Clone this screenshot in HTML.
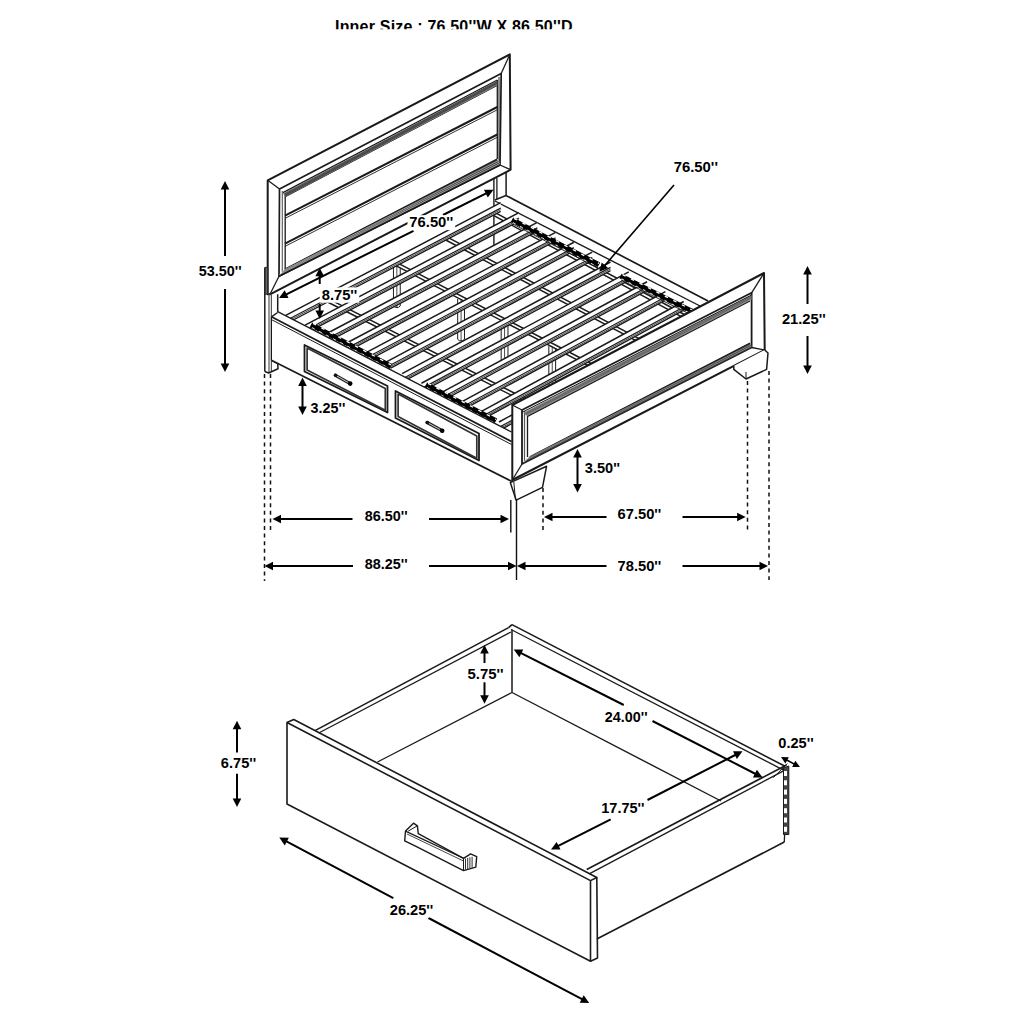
<!DOCTYPE html>
<html><head><meta charset="utf-8"><style>
html,body{margin:0;padding:0;background:#fff;width:1024px;height:1024px;overflow:hidden}
svg{position:absolute;left:0;top:0}
text{font-family:"Liberation Sans",sans-serif;font-weight:bold;fill:#000}
</style></head><body>
<svg width="1024" height="1024" viewBox="0 0 1024 1024">
<line x1="506.00" y1="195.50" x2="708.00" y2="301.00" stroke="#1a1a1a" stroke-width="1.7" />
<line x1="494.90" y1="200.00" x2="506.00" y2="195.50" stroke="#1a1a1a" stroke-width="1.4" />
<line x1="494.90" y1="201.00" x2="702.00" y2="307.00" stroke="#1a1a1a" stroke-width="1.4" />
<line x1="493.90" y1="178.00" x2="493.90" y2="245.00" stroke="#1a1a1a" stroke-width="1.4" />
<line x1="496.90" y1="178.00" x2="496.90" y2="199.00" stroke="#1a1a1a" stroke-width="1.3" />
<line x1="506.10" y1="172.00" x2="506.10" y2="195.50" stroke="#1a1a1a" stroke-width="1.5" />
<polyline points="393.45,265.42 393.45,305.92 395.35,307.42 398.35,307.42 400.25,305.92 400.25,265.42" stroke="#1a1a1a" stroke-width="1.0" fill="#fff" stroke-linejoin="round" />
<line x1="396.85" y1="265.42" x2="396.85" y2="307.42" stroke="#1a1a1a" stroke-width="0.8" />
<polyline points="457.68,298.80 457.68,339.30 459.58,340.80 462.58,340.80 464.48,339.30 464.48,298.80" stroke="#1a1a1a" stroke-width="1.0" fill="#fff" stroke-linejoin="round" />
<line x1="461.08" y1="298.80" x2="461.08" y2="340.80" stroke="#1a1a1a" stroke-width="0.8" />
<polyline points="501.18,321.41 501.18,361.91 503.08,363.41 506.08,363.41 507.98,361.91 507.98,321.41" stroke="#1a1a1a" stroke-width="1.0" fill="#fff" stroke-linejoin="round" />
<line x1="504.58" y1="321.41" x2="504.58" y2="363.41" stroke="#1a1a1a" stroke-width="0.8" />
<polyline points="548.84,346.18 548.84,386.68 550.74,388.18 553.74,388.18 555.63,386.68 555.63,346.18" stroke="#1a1a1a" stroke-width="1.0" fill="#fff" stroke-linejoin="round" />
<line x1="552.24" y1="346.18" x2="552.24" y2="388.18" stroke="#1a1a1a" stroke-width="0.8" />
<polygon points="326.55,301.49 537.57,408.49 541.07,406.69 330.05,299.69" stroke="#1a1a1a" stroke-width="1.5" fill="#fff" stroke-linejoin="round" />
<polygon points="395.35,265.42 602.53,373.09 606.03,371.29 398.85,263.62" stroke="#1a1a1a" stroke-width="1.5" fill="#fff" stroke-linejoin="round" />
<polygon points="444.80,239.50 649.22,347.66 652.72,345.86 448.30,237.70" stroke="#1a1a1a" stroke-width="1.5" fill="#fff" stroke-linejoin="round" />
<polygon points="492.10,214.71 693.88,323.32 697.38,321.52 495.60,212.91" stroke="#1a1a1a" stroke-width="1.5" fill="#fff" stroke-linejoin="round" />
<polygon points="285.70,315.40 500.70,202.70 500.70,211.30 285.70,324.00" stroke="#1a1a1a" stroke-width="0.0" fill="#fff" stroke-linejoin="round" stroke="none"/>
<line x1="285.70" y1="315.40" x2="500.70" y2="202.70" stroke="#1a1a1a" stroke-width="1.5" />
<line x1="285.70" y1="320.80" x2="500.70" y2="208.10" stroke="#1a1a1a" stroke-width="1.2" />
<line x1="285.70" y1="322.40" x2="500.70" y2="209.70" stroke="#1a1a1a" stroke-width="0.8" />
<line x1="285.70" y1="324.00" x2="500.70" y2="211.30" stroke="#1a1a1a" stroke-width="1.4" />
<polygon points="305.09,325.09 519.00,212.58 519.00,221.18 305.09,333.69" stroke="#1a1a1a" stroke-width="0.0" fill="#fff" stroke-linejoin="round" stroke="none"/>
<line x1="305.09" y1="325.09" x2="519.00" y2="212.58" stroke="#1a1a1a" stroke-width="1.5" />
<line x1="305.09" y1="330.49" x2="519.00" y2="217.98" stroke="#1a1a1a" stroke-width="1.2" />
<line x1="305.09" y1="332.09" x2="519.00" y2="219.58" stroke="#1a1a1a" stroke-width="0.8" />
<line x1="305.09" y1="333.69" x2="519.00" y2="221.18" stroke="#1a1a1a" stroke-width="1.4" />
<polygon points="324.48,334.78 537.30,222.46 537.30,231.06 324.48,343.38" stroke="#1a1a1a" stroke-width="0.0" fill="#fff" stroke-linejoin="round" stroke="none"/>
<line x1="324.48" y1="334.78" x2="537.30" y2="222.46" stroke="#1a1a1a" stroke-width="1.5" />
<line x1="324.48" y1="340.18" x2="537.30" y2="227.86" stroke="#1a1a1a" stroke-width="1.2" />
<line x1="324.48" y1="341.78" x2="537.30" y2="229.46" stroke="#1a1a1a" stroke-width="0.8" />
<line x1="324.48" y1="343.38" x2="537.30" y2="231.06" stroke="#1a1a1a" stroke-width="1.4" />
<polygon points="343.87,344.47 555.60,232.35 555.60,240.95 343.87,353.07" stroke="#1a1a1a" stroke-width="0.0" fill="#fff" stroke-linejoin="round" stroke="none"/>
<line x1="343.87" y1="344.47" x2="555.60" y2="232.35" stroke="#1a1a1a" stroke-width="1.5" />
<line x1="343.87" y1="349.87" x2="555.60" y2="237.75" stroke="#1a1a1a" stroke-width="1.2" />
<line x1="343.87" y1="351.47" x2="555.60" y2="239.35" stroke="#1a1a1a" stroke-width="0.8" />
<line x1="343.87" y1="353.07" x2="555.60" y2="240.95" stroke="#1a1a1a" stroke-width="1.4" />
<polygon points="363.26,354.16 573.90,242.23 573.90,250.83 363.26,362.76" stroke="#1a1a1a" stroke-width="0.0" fill="#fff" stroke-linejoin="round" stroke="none"/>
<line x1="363.26" y1="354.16" x2="573.90" y2="242.23" stroke="#1a1a1a" stroke-width="1.5" />
<line x1="363.26" y1="359.56" x2="573.90" y2="247.63" stroke="#1a1a1a" stroke-width="1.2" />
<line x1="363.26" y1="361.16" x2="573.90" y2="249.23" stroke="#1a1a1a" stroke-width="0.8" />
<line x1="363.26" y1="362.76" x2="573.90" y2="250.83" stroke="#1a1a1a" stroke-width="1.4" />
<polygon points="382.65,363.85 592.20,252.11 592.20,260.71 382.65,372.45" stroke="#1a1a1a" stroke-width="0.0" fill="#fff" stroke-linejoin="round" stroke="none"/>
<line x1="382.65" y1="363.85" x2="592.20" y2="252.11" stroke="#1a1a1a" stroke-width="1.5" />
<line x1="382.65" y1="369.25" x2="592.20" y2="257.51" stroke="#1a1a1a" stroke-width="1.2" />
<line x1="382.65" y1="370.85" x2="592.20" y2="259.11" stroke="#1a1a1a" stroke-width="0.8" />
<line x1="382.65" y1="372.45" x2="592.20" y2="260.71" stroke="#1a1a1a" stroke-width="1.4" />
<polygon points="402.05,373.55 610.50,261.99 610.50,270.59 402.05,382.15" stroke="#1a1a1a" stroke-width="0.0" fill="#fff" stroke-linejoin="round" stroke="none"/>
<line x1="402.05" y1="373.55" x2="610.50" y2="261.99" stroke="#1a1a1a" stroke-width="1.5" />
<line x1="402.05" y1="378.95" x2="610.50" y2="267.39" stroke="#1a1a1a" stroke-width="1.2" />
<line x1="402.05" y1="380.55" x2="610.50" y2="268.99" stroke="#1a1a1a" stroke-width="0.8" />
<line x1="402.05" y1="382.15" x2="610.50" y2="270.59" stroke="#1a1a1a" stroke-width="1.4" />
<polygon points="421.44,383.24 628.80,271.87 628.80,280.47 421.44,391.84" stroke="#1a1a1a" stroke-width="0.0" fill="#fff" stroke-linejoin="round" stroke="none"/>
<line x1="421.44" y1="383.24" x2="628.80" y2="271.87" stroke="#1a1a1a" stroke-width="1.5" />
<line x1="421.44" y1="388.64" x2="628.80" y2="277.27" stroke="#1a1a1a" stroke-width="1.2" />
<line x1="421.44" y1="390.24" x2="628.80" y2="278.87" stroke="#1a1a1a" stroke-width="0.8" />
<line x1="421.44" y1="391.84" x2="628.80" y2="280.47" stroke="#1a1a1a" stroke-width="1.4" />
<polygon points="440.83,392.93 647.10,281.75 647.10,290.35 440.83,401.53" stroke="#1a1a1a" stroke-width="0.0" fill="#fff" stroke-linejoin="round" stroke="none"/>
<line x1="440.83" y1="392.93" x2="647.10" y2="281.75" stroke="#1a1a1a" stroke-width="1.5" />
<line x1="440.83" y1="398.33" x2="647.10" y2="287.15" stroke="#1a1a1a" stroke-width="1.2" />
<line x1="440.83" y1="399.93" x2="647.10" y2="288.75" stroke="#1a1a1a" stroke-width="0.8" />
<line x1="440.83" y1="401.53" x2="647.10" y2="290.35" stroke="#1a1a1a" stroke-width="1.4" />
<polygon points="460.22,402.62 665.40,291.64 665.40,300.24 460.22,411.22" stroke="#1a1a1a" stroke-width="0.0" fill="#fff" stroke-linejoin="round" stroke="none"/>
<line x1="460.22" y1="402.62" x2="665.40" y2="291.64" stroke="#1a1a1a" stroke-width="1.5" />
<line x1="460.22" y1="408.02" x2="665.40" y2="297.04" stroke="#1a1a1a" stroke-width="1.2" />
<line x1="460.22" y1="409.62" x2="665.40" y2="298.64" stroke="#1a1a1a" stroke-width="0.8" />
<line x1="460.22" y1="411.22" x2="665.40" y2="300.24" stroke="#1a1a1a" stroke-width="1.4" />
<polygon points="479.61,412.31 683.70,301.52 683.70,310.12 479.61,420.91" stroke="#1a1a1a" stroke-width="0.0" fill="#fff" stroke-linejoin="round" stroke="none"/>
<line x1="479.61" y1="412.31" x2="683.70" y2="301.52" stroke="#1a1a1a" stroke-width="1.5" />
<line x1="479.61" y1="417.71" x2="683.70" y2="306.92" stroke="#1a1a1a" stroke-width="1.2" />
<line x1="479.61" y1="419.31" x2="683.70" y2="308.52" stroke="#1a1a1a" stroke-width="0.8" />
<line x1="479.61" y1="420.91" x2="683.70" y2="310.12" stroke="#1a1a1a" stroke-width="1.4" />
<polygon points="499.00,422.00 702.00,311.40 702.00,320.00 499.00,430.60" stroke="#1a1a1a" stroke-width="0.0" fill="#fff" stroke-linejoin="round" stroke="none"/>
<line x1="499.00" y1="422.00" x2="702.00" y2="311.40" stroke="#1a1a1a" stroke-width="1.5" />
<line x1="499.00" y1="427.40" x2="702.00" y2="316.80" stroke="#1a1a1a" stroke-width="1.2" />
<line x1="499.00" y1="429.00" x2="702.00" y2="318.40" stroke="#1a1a1a" stroke-width="0.8" />
<line x1="499.00" y1="430.60" x2="702.00" y2="320.00" stroke="#1a1a1a" stroke-width="1.4" />
<line x1="512.00" y1="219.80" x2="599.00" y2="264.80" stroke="#000" stroke-width="5.2" stroke-linecap="butt"/>
<line x1="514.00" y1="218.40" x2="599.00" y2="263.40" stroke="#fff" stroke-width="1.3" stroke-dasharray="3.5 6"/>
<line x1="513.00" y1="222.60" x2="599.00" y2="267.60" stroke="#fff" stroke-width="0.9" stroke-dasharray="3 5"/>
<line x1="513.00" y1="224.20" x2="600.00" y2="269.20" stroke="#1a1a1a" stroke-width="0.9" />
<line x1="620.50" y1="276.00" x2="693.00" y2="311.80" stroke="#000" stroke-width="5.2" stroke-linecap="butt"/>
<line x1="622.50" y1="274.60" x2="693.00" y2="310.40" stroke="#fff" stroke-width="1.3" stroke-dasharray="3.5 6"/>
<line x1="621.50" y1="278.80" x2="693.00" y2="314.60" stroke="#fff" stroke-width="0.9" stroke-dasharray="3 5"/>
<line x1="621.50" y1="280.40" x2="694.00" y2="316.20" stroke="#1a1a1a" stroke-width="0.9" />
<line x1="311.00" y1="324.80" x2="391.00" y2="366.30" stroke="#000" stroke-width="5.2" stroke-linecap="butt"/>
<line x1="313.00" y1="323.40" x2="391.00" y2="364.90" stroke="#fff" stroke-width="1.3" stroke-dasharray="3.5 6"/>
<line x1="312.00" y1="327.60" x2="391.00" y2="369.10" stroke="#fff" stroke-width="0.9" stroke-dasharray="3 5"/>
<line x1="312.00" y1="329.20" x2="392.00" y2="370.70" stroke="#1a1a1a" stroke-width="0.9" />
<line x1="426.00" y1="384.80" x2="496.00" y2="420.80" stroke="#000" stroke-width="5.2" stroke-linecap="butt"/>
<line x1="428.00" y1="383.40" x2="496.00" y2="419.40" stroke="#fff" stroke-width="1.3" stroke-dasharray="3.5 6"/>
<line x1="427.00" y1="387.60" x2="496.00" y2="423.60" stroke="#fff" stroke-width="0.9" stroke-dasharray="3 5"/>
<line x1="427.00" y1="389.20" x2="497.00" y2="425.20" stroke="#1a1a1a" stroke-width="0.9" />
<polygon points="267.70,180.30 509.80,54.40 510.60,169.70 270.00,294.30 267.70,294.30" stroke="#1a1a1a" stroke-width="2.0" fill="#fff" stroke-linejoin="round" />
<line x1="267.70" y1="180.30" x2="279.50" y2="189.00" stroke="#1a1a1a" stroke-width="1.3" />
<line x1="509.80" y1="54.40" x2="501.20" y2="73.60" stroke="#1a1a1a" stroke-width="1.3" />
<line x1="510.60" y1="169.70" x2="500.00" y2="165.00" stroke="#1a1a1a" stroke-width="1.3" />
<line x1="270.00" y1="294.30" x2="279.00" y2="276.30" stroke="#1a1a1a" stroke-width="1.3" />
<polygon points="279.50,189.00 501.20,73.60 500.00,165.00 279.00,276.30" stroke="#1a1a1a" stroke-width="1.7" fill="none" stroke-linejoin="round" />
<line x1="282.30" y1="191.00" x2="282.30" y2="272.00" stroke="#555" stroke-width="1.1" />
<line x1="285.20" y1="193.00" x2="285.20" y2="270.00" stroke="#1a1a1a" stroke-width="1.3" />
<line x1="497.30" y1="80.00" x2="497.30" y2="159.00" stroke="#1a1a1a" stroke-width="1.3" />
<line x1="499.00" y1="77.00" x2="499.00" y2="162.00" stroke="#1a1a1a" stroke-width="1.0" />
<line x1="283.00" y1="192.60" x2="497.30" y2="80.00" stroke="#1a1a1a" stroke-width="1.3" />
<line x1="285.00" y1="197.00" x2="497.30" y2="85.50" stroke="#1a1a1a" stroke-width="1.0" />
<polygon points="283.00,193.30 497.30,80.80 497.30,85.50 285.00,197.00" stroke="#1a1a1a" stroke-width="0" fill="#777" stroke-linejoin="round" stroke="none"/>
<line x1="285.00" y1="193.80" x2="497.30" y2="81.30" stroke="#333" stroke-width="0.6" />
<line x1="285.00" y1="194.60" x2="497.30" y2="82.10" stroke="#333" stroke-width="0.6" />
<line x1="285.00" y1="195.40" x2="497.30" y2="82.90" stroke="#333" stroke-width="0.6" />
<line x1="285.00" y1="196.20" x2="497.30" y2="83.70" stroke="#333" stroke-width="0.6" />
<line x1="285.00" y1="215.60" x2="497.30" y2="107.00" stroke="#1a1a1a" stroke-width="2.0" />
<line x1="285.00" y1="218.40" x2="497.30" y2="109.80" stroke="#1a1a1a" stroke-width="0.9" />
<line x1="285.00" y1="243.60" x2="497.30" y2="134.50" stroke="#1a1a1a" stroke-width="2.0" />
<line x1="285.00" y1="246.40" x2="497.30" y2="137.30" stroke="#1a1a1a" stroke-width="0.9" />
<polygon points="285.00,269.00 497.00,159.00 500.00,165.00 279.00,276.30" stroke="#1a1a1a" stroke-width="0" fill="#3a3a3a" stroke-linejoin="round" stroke="none"/>
<line x1="285.00" y1="269.00" x2="497.00" y2="159.00" stroke="#1a1a1a" stroke-width="1.2" />
<line x1="279.00" y1="276.30" x2="500.00" y2="165.00" stroke="#1a1a1a" stroke-width="1.4" />
<line x1="282.50" y1="270.80" x2="498.50" y2="160.50" stroke="#ddd" stroke-width="0.6" />
<line x1="281.00" y1="272.60" x2="499.30" y2="162.00" stroke="#ddd" stroke-width="0.6" />
<line x1="279.50" y1="274.40" x2="500.10" y2="163.50" stroke="#ddd" stroke-width="0.6" />
<polyline points="264.80,267.40 267.70,267.40 267.70,294.30 264.80,294.30" stroke="#1a1a1a" stroke-width="0.8" fill="#666" stroke-linejoin="round" />
<line x1="264.80" y1="267.40" x2="264.80" y2="371.50" stroke="#1a1a1a" stroke-width="1.5" />
<line x1="269.00" y1="294.30" x2="269.00" y2="373.00" stroke="#555" stroke-width="1.2" />
<line x1="271.40" y1="294.30" x2="271.40" y2="372.00" stroke="#555" stroke-width="1.2" />
<line x1="277.70" y1="294.30" x2="277.70" y2="312.50" stroke="#1a1a1a" stroke-width="1.5" />
<polyline points="271.40,360.20 277.70,363.70 278.00,368.75 268.70,373.00 264.80,371.50" stroke="#1a1a1a" stroke-width="1.5" fill="none" stroke-linejoin="round" />
<polygon points="277.70,311.70 511.50,432.00 511.50,481.50 271.40,360.20 271.40,316.80" stroke="#1a1a1a" stroke-width="0" fill="#fff" stroke-linejoin="round" stroke="none"/>
<line x1="277.70" y1="312.50" x2="271.40" y2="316.80" stroke="#1a1a1a" stroke-width="1.4" />
<line x1="277.70" y1="311.70" x2="511.50" y2="432.00" stroke="#1a1a1a" stroke-width="1.3" />
<line x1="271.40" y1="316.80" x2="511.50" y2="441.50" stroke="#1a1a1a" stroke-width="1.7" />
<line x1="271.40" y1="319.60" x2="511.50" y2="444.50" stroke="#1a1a1a" stroke-width="1.0" />
<line x1="271.40" y1="360.20" x2="512.00" y2="481.50" stroke="#1a1a1a" stroke-width="1.6" />
<line x1="271.40" y1="316.80" x2="271.40" y2="360.20" stroke="#1a1a1a" stroke-width="1.2" />
<polygon points="304.50,345.00 387.50,386.00 387.50,412.50 304.50,371.50" stroke="#1a1a1a" stroke-width="1.8" fill="none" stroke-linejoin="round" />
<polygon points="307.10,348.00 385.30,388.60 385.30,410.30 307.10,369.90" stroke="#333" stroke-width="1.7" fill="none" stroke-linejoin="round" />
<polygon points="395.50,391.00 479.00,433.50 479.00,460.50 395.50,418.00" stroke="#1a1a1a" stroke-width="1.8" fill="none" stroke-linejoin="round" />
<polygon points="398.10,394.00 476.80,436.10 476.80,458.30 398.10,416.40" stroke="#333" stroke-width="1.7" fill="none" stroke-linejoin="round" />
<line x1="335.50" y1="375.30" x2="350.20" y2="383.60" stroke="#222" stroke-width="3.2" stroke-linecap="round"/>
<line x1="337.00" y1="376.10" x2="348.20" y2="382.50" stroke="#ddd" stroke-width="0.9" />
<circle cx="350.2" cy="383.6" r="2.3" fill="#000"/>
<circle cx="335.5" cy="375.3" r="1.8" fill="#111"/>
<line x1="427.20" y1="422.50" x2="442.20" y2="430.70" stroke="#222" stroke-width="3.2" stroke-linecap="round"/>
<line x1="428.70" y1="423.30" x2="440.20" y2="429.60" stroke="#ddd" stroke-width="0.9" />
<circle cx="442.2" cy="430.7" r="2.3" fill="#000"/>
<circle cx="427.2" cy="422.5" r="1.8" fill="#111"/>
<polygon points="512.30,405.00 764.00,273.00 764.70,350.00 512.30,480.00" stroke="#1a1a1a" stroke-width="2.0" fill="#fff" stroke-linejoin="round" />
<line x1="512.30" y1="405.00" x2="522.00" y2="410.00" stroke="#1a1a1a" stroke-width="1.3" />
<line x1="764.00" y1="273.00" x2="751.60" y2="292.80" stroke="#1a1a1a" stroke-width="1.3" />
<line x1="764.70" y1="350.00" x2="751.60" y2="347.50" stroke="#1a1a1a" stroke-width="1.3" />
<line x1="512.30" y1="480.00" x2="522.00" y2="464.00" stroke="#1a1a1a" stroke-width="1.3" />
<polygon points="522.00,410.00 751.60,292.80 751.60,347.50 522.00,464.00" stroke="#1a1a1a" stroke-width="1.8" fill="none" stroke-linejoin="round" />
<line x1="527.50" y1="413.00" x2="527.50" y2="457.00" stroke="#1a1a1a" stroke-width="1.3" />
<line x1="524.50" y1="411.00" x2="524.50" y2="461.00" stroke="#555" stroke-width="1.2" />
<polygon points="524.00,412.20 751.60,295.00 751.60,299.60 527.50,416.50" stroke="#1a1a1a" stroke-width="0" fill="#8a8a8a" stroke-linejoin="round" stroke="none"/>
<line x1="525.00" y1="413.60" x2="751.60" y2="296.40" stroke="#333" stroke-width="0.5" />
<line x1="525.00" y1="415.00" x2="751.60" y2="297.80" stroke="#333" stroke-width="0.5" />
<line x1="522.00" y1="412.40" x2="751.60" y2="295.00" stroke="#1a1a1a" stroke-width="1.0" />
<line x1="527.50" y1="416.50" x2="750.00" y2="301.00" stroke="#1a1a1a" stroke-width="1.2" />
<polygon points="529.70,456.80 750.00,343.00 751.60,347.50 522.00,464.00" stroke="#1a1a1a" stroke-width="0" fill="#3a3a3a" stroke-linejoin="round" stroke="none"/>
<line x1="529.70" y1="456.80" x2="750.00" y2="343.00" stroke="#1a1a1a" stroke-width="1.1" />
<line x1="525.50" y1="459.20" x2="751.00" y2="344.50" stroke="#ccc" stroke-width="0.5" />
<line x1="523.00" y1="461.60" x2="751.50" y2="346.00" stroke="#ccc" stroke-width="0.5" />
<polygon points="510.30,482.60 546.60,466.20 542.50,487.30 516.20,500.20" stroke="#1a1a1a" stroke-width="1.5" fill="#fff" stroke-linejoin="round" />
<line x1="513.80" y1="482.00" x2="515.50" y2="500.00" stroke="#1a1a1a" stroke-width="1.0" />
<polyline points="733.80,366.00 733.80,369.40 746.00,379.00 766.60,369.40 768.00,353.00 764.70,350.00" stroke="#1a1a1a" stroke-width="1.5" fill="#fff" stroke-linejoin="round" />
<line x1="746.00" y1="379.00" x2="746.00" y2="372.00" stroke="#1a1a1a" stroke-width="1.0" />
<line x1="225.00" y1="187.00" x2="225.00" y2="256.00" stroke="#000" stroke-width="2" />
<polygon points="225.00,181.00 229.30,189.50 220.70,189.50" fill="#000"/>
<line x1="225.00" y1="289.00" x2="225.00" y2="366.00" stroke="#000" stroke-width="2" />
<polygon points="225.00,372.00 220.70,363.50 229.30,363.50" fill="#000"/>
<line x1="807.50" y1="272.00" x2="807.50" y2="304.00" stroke="#000" stroke-width="2" />
<polygon points="807.50,266.00 811.80,274.50 803.20,274.50" fill="#000"/>
<line x1="807.50" y1="336.00" x2="807.50" y2="368.00" stroke="#000" stroke-width="2" />
<polygon points="807.50,374.00 803.20,365.50 811.80,365.50" fill="#000"/>
<line x1="284.37" y1="295.32" x2="413.50" y2="230.80" stroke="#000" stroke-width="2" />
<polygon points="279.00,298.00 284.68,290.35 288.53,298.05" fill="#000"/>
<line x1="443.00" y1="215.00" x2="488.13" y2="192.48" stroke="#000" stroke-width="2" />
<polygon points="493.50,189.80 487.81,197.44 483.97,189.75" fill="#000"/>
<line x1="319.70" y1="273.80" x2="319.70" y2="284.00" stroke="#000" stroke-width="2" />
<polygon points="319.70,267.80 324.00,276.30 315.40,276.30" fill="#000"/>
<line x1="319.70" y1="304.00" x2="319.70" y2="313.00" stroke="#000" stroke-width="2" />
<polygon points="319.70,319.00 315.40,310.50 324.00,310.50" fill="#000"/>
<line x1="302.50" y1="383.50" x2="302.50" y2="409.00" stroke="#000" stroke-width="2" />
<polygon points="302.50,377.50 306.80,386.00 298.20,386.00" fill="#000"/>
<polygon points="302.50,415.00 298.20,406.50 306.80,406.50" fill="#000"/>
<line x1="577.50" y1="455.00" x2="577.50" y2="486.50" stroke="#000" stroke-width="2" />
<polygon points="577.50,449.00 581.80,457.50 573.20,457.50" fill="#000"/>
<polygon points="577.50,492.50 573.20,484.00 581.80,484.00" fill="#000"/>
<line x1="278.50" y1="519.00" x2="352.50" y2="519.00" stroke="#000" stroke-width="2" />
<polygon points="272.50,519.00 281.00,514.70 281.00,523.30" fill="#000"/>
<line x1="429.00" y1="519.00" x2="503.00" y2="519.00" stroke="#000" stroke-width="2" />
<polygon points="509.00,519.00 500.50,523.30 500.50,514.70" fill="#000"/>
<line x1="270.50" y1="566.00" x2="353.00" y2="566.00" stroke="#000" stroke-width="2" />
<polygon points="264.50,566.00 273.00,561.70 273.00,570.30" fill="#000"/>
<line x1="429.00" y1="566.00" x2="510.50" y2="566.00" stroke="#000" stroke-width="2" />
<polygon points="516.50,566.00 508.00,570.30 508.00,561.70" fill="#000"/>
<line x1="550.00" y1="517.00" x2="606.50" y2="517.00" stroke="#000" stroke-width="2" />
<polygon points="544.00,517.00 552.50,512.70 552.50,521.30" fill="#000"/>
<line x1="682.50" y1="517.00" x2="739.60" y2="517.00" stroke="#000" stroke-width="2" />
<polygon points="745.60,517.00 737.10,521.30 737.10,512.70" fill="#000"/>
<line x1="523.00" y1="566.00" x2="606.50" y2="566.00" stroke="#000" stroke-width="2" />
<polygon points="517.00,566.00 525.50,561.70 525.50,570.30" fill="#000"/>
<line x1="682.50" y1="566.00" x2="762.00" y2="566.00" stroke="#000" stroke-width="2" />
<polygon points="768.00,566.00 759.50,570.30 759.50,561.70" fill="#000"/>
<line x1="674.00" y1="185.00" x2="603.31" y2="267.15" stroke="#000" stroke-width="1.6" />
<polygon points="599.40,271.70 601.68,262.45 608.20,268.06" fill="#000"/>
<line x1="264.5" y1="374" x2="264.5" y2="581" stroke="#111" stroke-width="1.5" stroke-dasharray="4 3.6"/>
<line x1="270.5" y1="374" x2="270.5" y2="532.5" stroke="#111" stroke-width="1.5" stroke-dasharray="4 3.6"/>
<line x1="543" y1="488" x2="543" y2="530" stroke="#111" stroke-width="1.5" stroke-dasharray="4 3.6"/>
<line x1="747.5" y1="381" x2="747.5" y2="530" stroke="#111" stroke-width="1.5" stroke-dasharray="4 3.6"/>
<line x1="769" y1="371" x2="769" y2="580" stroke="#111" stroke-width="1.5" stroke-dasharray="4 3.6"/>
<line x1="516.50" y1="500.00" x2="516.50" y2="580.00" stroke="#111" stroke-width="1.4" />
<line x1="510.80" y1="500.00" x2="510.80" y2="532.50" stroke="#111" stroke-width="1.4" />
<polygon points="287.00,722.50 590.50,880.60 590.50,961.30 287.00,804.00" stroke="#1a1a1a" stroke-width="1.6" fill="#fff" stroke-linejoin="round" />
<polyline points="287.00,722.50 293.75,719.50 596.80,877.50 590.50,880.60" stroke="#1a1a1a" stroke-width="1.6" fill="none" stroke-linejoin="round" />
<polyline points="596.80,877.50 597.50,958.10 590.50,961.30" stroke="#1a1a1a" stroke-width="1.6" fill="none" stroke-linejoin="round" />
<line x1="315.00" y1="730.60" x2="508.60" y2="627.60" stroke="#1a1a1a" stroke-width="1.6" />
<line x1="318.75" y1="733.00" x2="511.00" y2="632.00" stroke="#1a1a1a" stroke-width="1.3" />
<line x1="508.60" y1="627.60" x2="512.00" y2="624.60" stroke="#1a1a1a" stroke-width="1.6" />
<line x1="512.00" y1="624.60" x2="785.10" y2="766.30" stroke="#1a1a1a" stroke-width="1.6" />
<line x1="511.00" y1="629.50" x2="783.00" y2="769.80" stroke="#1a1a1a" stroke-width="1.3" />
<line x1="786.50" y1="765.00" x2="586.70" y2="869.50" stroke="#1a1a1a" stroke-width="1.6" />
<line x1="784.00" y1="770.60" x2="589.20" y2="873.90" stroke="#1a1a1a" stroke-width="1.3" />
<line x1="773.30" y1="777.60" x2="787.30" y2="763.60" stroke="#1a1a1a" stroke-width="1.0" />
<polygon points="783.50,768.00 788.80,766.00 788.80,834.50 783.50,834.50" stroke="#1a1a1a" stroke-width="1.0" fill="#444" stroke-linejoin="round" />
<rect x="784.0" y="771.0" width="3.0" height="5.0" fill="#fff"/>
<rect x="784.0" y="780.3" width="3.0" height="5.0" fill="#fff"/>
<rect x="784.0" y="789.6" width="3.0" height="5.0" fill="#fff"/>
<rect x="784.0" y="798.9" width="3.0" height="5.0" fill="#fff"/>
<rect x="784.0" y="808.2" width="3.0" height="5.0" fill="#fff"/>
<rect x="784.0" y="817.5" width="3.0" height="5.0" fill="#fff"/>
<rect x="784.0" y="826.8" width="3.0" height="5.0" fill="#fff"/>
<line x1="784.60" y1="834.50" x2="784.30" y2="842.00" stroke="#1a1a1a" stroke-width="1.3" />
<line x1="784.30" y1="842.00" x2="596.80" y2="939.00" stroke="#1a1a1a" stroke-width="1.6" />
<line x1="512.00" y1="629.50" x2="512.00" y2="692.50" stroke="#1a1a1a" stroke-width="1.5" />
<line x1="512.00" y1="692.50" x2="377.50" y2="762.00" stroke="#1a1a1a" stroke-width="1.4" />
<line x1="512.00" y1="692.50" x2="721.00" y2="801.00" stroke="#1a1a1a" stroke-width="1.4" />
<path d="M404.7,840.8 L405.5,831.1 L413.5,823.2 L417.4,825.8 L418.3,833.7 L463.5,858.3 L470.6,853.9 L476.7,856.6 L475.8,867.1 L463.5,870.6 L417,846.9 Z" fill="#fff" stroke="#1a1a1a" stroke-width="1.4" stroke-linejoin="round"/>
<line x1="405.50" y1="831.10" x2="463.50" y2="858.30" stroke="#1a1a1a" stroke-width="1.2" />
<line x1="407.00" y1="834.00" x2="463.50" y2="861.00" stroke="#1a1a1a" stroke-width="0.8" />
<line x1="408.20" y1="831.10" x2="417.40" y2="825.80" stroke="#1a1a1a" stroke-width="1.0" />
<line x1="463.50" y1="858.30" x2="463.50" y2="870.60" stroke="#1a1a1a" stroke-width="1.0" />
<line x1="465.50" y1="858.50" x2="465.50" y2="869.50" stroke="#1a1a1a" stroke-width="0.9" />
<line x1="467.70" y1="857.90" x2="467.70" y2="868.90" stroke="#1a1a1a" stroke-width="0.9" />
<line x1="469.90" y1="857.30" x2="469.90" y2="868.30" stroke="#1a1a1a" stroke-width="0.9" />
<line x1="472.10" y1="856.70" x2="472.10" y2="867.70" stroke="#1a1a1a" stroke-width="0.9" />
<line x1="237.00" y1="726.75" x2="237.00" y2="752.50" stroke="#000" stroke-width="2" />
<polygon points="237.00,720.75 241.30,729.25 232.70,729.25" fill="#000"/>
<line x1="237.00" y1="773.75" x2="237.00" y2="801.00" stroke="#000" stroke-width="2" />
<polygon points="237.00,807.00 232.70,798.50 241.30,798.50" fill="#000"/>
<line x1="484.50" y1="651.00" x2="484.50" y2="663.00" stroke="#000" stroke-width="2" />
<polygon points="484.50,645.00 488.80,653.50 480.20,653.50" fill="#000"/>
<line x1="484.50" y1="682.30" x2="484.50" y2="697.75" stroke="#000" stroke-width="2" />
<polygon points="484.50,703.75 480.20,695.25 488.80,695.25" fill="#000"/>
<line x1="519.11" y1="652.20" x2="623.75" y2="705.00" stroke="#000" stroke-width="2" />
<polygon points="513.75,649.50 523.28,649.49 519.40,657.17" fill="#000"/>
<line x1="652.50" y1="721.00" x2="757.16" y2="774.76" stroke="#000" stroke-width="2" />
<polygon points="762.50,777.50 752.97,777.44 756.90,769.79" fill="#000"/>
<line x1="737.16" y1="753.99" x2="647.50" y2="800.00" stroke="#000" stroke-width="2" />
<polygon points="742.50,751.25 736.90,758.96 732.97,751.31" fill="#000"/>
<line x1="610.70" y1="819.40" x2="556.35" y2="846.89" stroke="#000" stroke-width="2" />
<polygon points="551.00,849.60 556.64,841.93 560.53,849.60" fill="#000"/>
<line x1="284.60" y1="840.42" x2="393.30" y2="898.20" stroke="#000" stroke-width="2" />
<polygon points="279.30,837.60 288.82,837.79 284.79,845.39" fill="#000"/>
<line x1="428.50" y1="918.00" x2="583.90" y2="1000.19" stroke="#000" stroke-width="2" />
<polygon points="589.20,1003.00 579.68,1002.83 583.70,995.22" fill="#000"/>
<polygon points="781.00,757.00 788.82,757.34 785.42,763.46" fill="#000"/>
<polygon points="800.00,767.00 792.17,767.00 795.30,760.74" fill="#000"/>
<line x1="783.00" y1="758.00" x2="797.00" y2="765.50" stroke="#000" stroke-width="1.5" />
<rect x="196.8" y="263.8" width="46.7" height="15.3" fill="#fff"/>
<text transform="translate(198.82,276.40) scale(0.991,1)" font-size="14.51">53.50&#39;&#39;</text>
<rect x="407.5" y="215.2" width="47.7" height="14.9" fill="#fff"/>
<text transform="translate(409.36,227.41) scale(1.060,1)" font-size="13.94">76.50&#39;&#39;</text>
<rect x="319.7" y="287.4" width="39.5" height="15.3" fill="#fff"/>
<text transform="translate(321.71,300.00) scale(1.016,1)" font-size="14.51">8.75&#39;&#39;</text>
<rect x="671.8" y="159.2" width="48.0" height="15.6" fill="#fff"/>
<text transform="translate(673.65,172.10) scale(0.997,1)" font-size="14.93">76.50&#39;&#39;</text>
<rect x="779.9" y="311.2" width="47.7" height="15.3" fill="#fff"/>
<text transform="translate(781.91,323.80) scale(1.015,1)" font-size="14.51">21.25&#39;&#39;</text>
<rect x="308.4" y="400.2" width="38.7" height="15.3" fill="#fff"/>
<text transform="translate(310.56,412.80) scale(0.989,1)" font-size="14.51">3.25&#39;&#39;</text>
<rect x="582.6" y="460.2" width="39.2" height="15.3" fill="#fff"/>
<text transform="translate(584.86,472.80) scale(1.003,1)" font-size="14.51">3.50&#39;&#39;</text>
<rect x="362.8" y="508.5" width="46.7" height="15.6" fill="#fff"/>
<text transform="translate(364.82,521.40) scale(0.963,1)" font-size="14.93">86.50&#39;&#39;</text>
<rect x="615.6" y="506.9" width="47.5" height="15.2" fill="#fff"/>
<text transform="translate(617.56,519.41) scale(1.024,1)" font-size="14.37">67.50&#39;&#39;</text>
<rect x="362.8" y="556.4" width="46.7" height="15.6" fill="#fff"/>
<text transform="translate(364.82,569.30) scale(0.963,1)" font-size="14.93">88.25&#39;&#39;</text>
<rect x="615.6" y="558.4" width="47.5" height="14.9" fill="#fff"/>
<text transform="translate(617.56,570.61) scale(1.055,1)" font-size="13.94">78.50&#39;&#39;</text>
<rect x="465.5" y="666.6" width="39.9" height="15.3" fill="#fff"/>
<text transform="translate(467.50,679.30) scale(1.014,1)" font-size="14.71">5.75&#39;&#39;</text>
<rect x="218.9" y="755.1" width="39.0" height="15.3" fill="#fff"/>
<text transform="translate(220.87,767.80) scale(1.006,1)" font-size="14.51">6.75&#39;&#39;</text>
<rect x="602.8" y="709.5" width="46.7" height="15.3" fill="#fff"/>
<text transform="translate(604.82,722.10) scale(0.991,1)" font-size="14.51">24.00&#39;&#39;</text>
<rect x="599.6" y="800.9" width="46.7" height="15.2" fill="#fff"/>
<text transform="translate(601.28,813.40) scale(0.997,1)" font-size="14.57">17.75&#39;&#39;</text>
<rect x="776.4" y="735.1" width="39.0" height="15.3" fill="#fff"/>
<text transform="translate(778.27,747.80) scale(1.006,1)" font-size="14.51">0.25&#39;&#39;</text>
<rect x="387.8" y="901.9" width="47.4" height="15.3" fill="#fff"/>
<text transform="translate(389.81,914.50) scale(1.008,1)" font-size="14.51">26.25&#39;&#39;</text>
<clipPath id="tc"><rect x="0" y="0" width="1024" height="29.3"/></clipPath>
<text x="335" y="31.7" font-size="16" letter-spacing="0.2" clip-path="url(#tc)">Inner Size : 76.50&#39;&#39;W X 86.50&#39;&#39;D</text>
</svg>
</body></html>
